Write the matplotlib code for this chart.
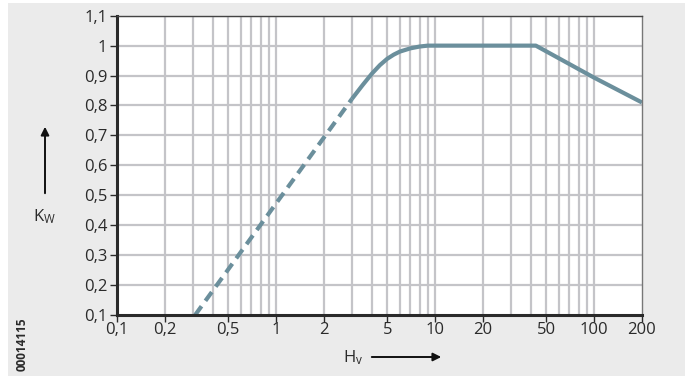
import matplotlib
matplotlib.use("Agg")
import matplotlib.pyplot as plt
from matplotlib.patches import Rectangle, FancyArrowPatch
from matplotlib.ticker import FixedLocator, NullFormatter

# curve
hv_dashed = [0.31, 3.0]
kw_dashed = [0.10, 0.822]

hv_solid = [3.0, 3.5, 4.0, 4.5, 5.0, 5.5, 6.0, 7.0, 8.0, 9.0, 20.0, 43.0, 100.0, 200.0]
kw_solid = [0.822, 0.868, 0.906, 0.935, 0.956, 0.970, 0.980, 0.991, 0.997, 1.0, 1.0, 1.0, 0.893, 0.81]

x_ticks = [0.1, 0.2, 0.5, 1, 2, 5, 10, 20, 50, 100, 200]
x_tick_labels = ["0,1", "0,2", "0,5", "1", "2", "5", "10", "20", "50", "100", "200"]
y_ticks = [0.1, 0.2, 0.3, 0.4, 0.5, 0.6, 0.7, 0.8, 0.9, 1.0, 1.1]
y_tick_labels = ["0,1", "0,2", "0,3", "0,4", "0,5", "0,6", "0,7", "0,8", "0,9", "1", "1,1"]
x_grid = [0.2, 0.3, 0.4, 0.5, 0.6, 0.7, 0.8, 0.9,
          1, 2, 3, 4, 5, 6, 7, 8, 9,
          10, 20, 30, 40, 50, 60, 70, 80, 90, 100]

LINE_COLOR = "#6b8f9c"
GRID_COLOR = "#c4c4c8"
TEXT_COLOR = "#2a2a2a"
BG_COLOR = "#ebebeb"

plt.rcParams["font.family"] = ["Open Sans", "DejaVu Sans"]
plt.rcParams["mathtext.fontset"] = "custom"
plt.rcParams["mathtext.rm"] = "Open Sans"
plt.rcParams["mathtext.it"] = "Open Sans"

fig = plt.figure(figsize=(6.85, 3.79), dpi=100)
fig.patch.set_facecolor("white")
fig.patches.append(Rectangle((8 / 685, 3 / 379), 677 / 685, 373 / 379,
                             transform=fig.transFigure, facecolor=BG_COLOR,
                             edgecolor="none", zorder=-5))

ax = fig.add_axes([117 / 685, 1 - 315 / 379, 525 / 685, 299.3 / 379])
ax.set_zorder(1)
ax.set_facecolor("white")
ax.set_xscale("log")
ax.set_xlim(0.1, 200)
ax.set_ylim(0.1, 1.1)

for g in x_grid:
    ax.axvline(g, color=GRID_COLOR, lw=1.6, zorder=1)
for g in y_ticks[1:]:
    ax.axhline(g, color=GRID_COLOR, lw=1.6, zorder=1)

ax.plot(hv_dashed, kw_dashed, color=LINE_COLOR, lw=3.0, dashes=(2.6, 1.6),
        solid_capstyle="butt", zorder=3)
ax.plot(hv_solid, kw_solid, color=LINE_COLOR, lw=3.0, solid_capstyle="butt",
        solid_joinstyle="round", zorder=3)

ax.xaxis.set_major_locator(FixedLocator(x_ticks))
ax.xaxis.set_minor_locator(FixedLocator([]))
ax.xaxis.set_minor_formatter(NullFormatter())
ax.set_xticks(x_ticks)
ax.set_xticklabels(x_tick_labels)
ax.set_yticks(y_ticks)
ax.set_yticklabels(y_tick_labels)
ax.tick_params(axis="both", direction="out", length=5, width=1.0,
               colors=TEXT_COLOR, labelsize=12, pad=2)
ax.tick_params(axis="x", pad=0)

ax.spines["left"].set_linewidth(2.2)
ax.spines["bottom"].set_linewidth(2.2)
ax.spines["left"].set_color(TEXT_COLOR)
ax.spines["bottom"].set_color(TEXT_COLOR)
ax.spines["top"].set_linewidth(1.0)
ax.spines["top"].set_color("#444444")
ax.spines["right"].set_linewidth(1.0)
ax.spines["right"].set_color("#777777")
for s in ax.spines.values():
    s.set_zorder(4)

# axis labels with arrows
fig.text(44 / 685, 1 - 217 / 379, r"K$_\mathregular{W}$", ha="center", va="center",
         fontsize=12, color=TEXT_COLOR)
fig.patches.append(FancyArrowPatch((45 / 685, 1 - 196 / 379), (45 / 685, 1 - 124 / 379),
                                   transform=fig.transFigure, arrowstyle="-|>",
                                   mutation_scale=12, lw=1.4, color="#111111"))
fig.text(353 / 685, 1 - 358 / 379, r"H$_\mathregular{v}$", ha="center", va="center",
         fontsize=12, color=TEXT_COLOR)
fig.patches.append(FancyArrowPatch((369 / 685, 1 - 357 / 379), (444 / 685, 1 - 357 / 379),
                                   transform=fig.transFigure, arrowstyle="-|>",
                                   mutation_scale=12, lw=1.4, color="#111111"))

fig.text(22 / 685, 1 - 344 / 379, "00014115", rotation=90, ha="center", va="center",
         fontsize=8.5, fontweight="bold", color=TEXT_COLOR)

fig.savefig("out.png", dpi=100, facecolor=fig.get_facecolor())
